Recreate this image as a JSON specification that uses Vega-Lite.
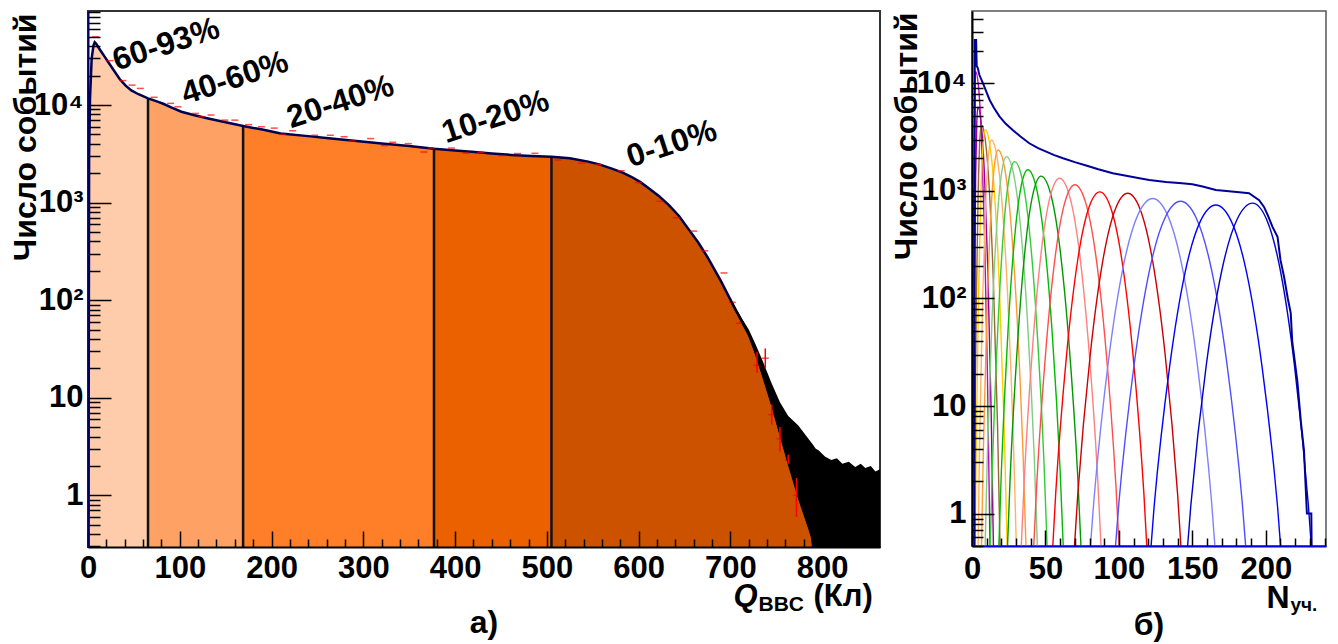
{
  "$schema": "https://vega.github.io/schema/vega-lite/v6.json",
  "background": "white",
  "padding": {"left": 8, "top": 10, "right": 4, "bottom": 0},
  "spacing": 8,
  "resolve": {"scale": {"color": "independent"}},
  "config": {
    "view": {"stroke": "#333333", "strokeWidth": 2},
    "font": "Liberation Sans",
    "axis": {"labelFont": "Liberation Sans", "labelFontWeight": "bold", "labelFontSize": 31, "labelColor": "#000000", "titleFont": "Liberation Sans", "titleFontWeight": "bold", "titleColor": "#000000", "titleFontSize": 32, "domainColor": "#000000", "domainWidth": 2, "tickColor": "#000000", "tickWidth": 1.5, "grid": false, "labelOverlap": false, "labelFlush": false, "labelBound": false, "zindex": 1},
    "title": {"font": "Liberation Sans", "fontWeight": "bold", "fontSize": 32, "color": "#000000"}
  },
  "datasets": {
    "curve": [
      {"cls": "60-93%", "q": 0.5, "n": 0.2}, {"cls": "60-93%", "q": 1.2, "n": 3000}, {"cls": "60-93%", "q": 2.2, "n": 11700}, {"cls": "60-93%", "q": 4, "n": 30000}, {"cls": "60-93%", "q": 6, "n": 41000}, {"cls": "60-93%", "q": 7.3, "n": 44000}, {"cls": "60-93%", "q": 9, "n": 42500}, {"cls": "60-93%", "q": 10.9, "n": 39600}, {"cls": "60-93%", "q": 14.5, "n": 35200}, {"cls": "60-93%", "q": 18.1, "n": 31300}, {"cls": "60-93%", "q": 21.8, "n": 27800}, {"cls": "60-93%", "q": 27.3, "n": 23300}, {"cls": "60-93%", "q": 34.5, "n": 18500}, {"cls": "60-93%", "q": 41, "n": 15800}, {"cls": "60-93%", "q": 47.2, "n": 14100}, {"cls": "60-93%", "q": 55, "n": 12900}, {"cls": "60-93%", "q": 65.4, "n": 11700},
      {"cls": "40-60%", "q": 65.4, "n": 11700}, {"cls": "40-60%", "q": 75, "n": 10900}, {"cls": "40-60%", "q": 82, "n": 10300}, {"cls": "40-60%", "q": 90, "n": 9500}, {"cls": "40-60%", "q": 101.8, "n": 8530}, {"cls": "40-60%", "q": 115, "n": 7900}, {"cls": "40-60%", "q": 131, "n": 7290}, {"cls": "40-60%", "q": 150, "n": 6650}, {"cls": "40-60%", "q": 169, "n": 6100},
      {"cls": "20-40%", "q": 169, "n": 6100}, {"cls": "20-40%", "q": 190, "n": 5600}, {"cls": "20-40%", "q": 210, "n": 5120}, {"cls": "20-40%", "q": 240, "n": 4800}, {"cls": "20-40%", "q": 265, "n": 4550}, {"cls": "20-40%", "q": 290, "n": 4300}, {"cls": "20-40%", "q": 320, "n": 4040}, {"cls": "20-40%", "q": 350, "n": 3800}, {"cls": "20-40%", "q": 377, "n": 3560},
      {"cls": "10-20%", "q": 377, "n": 3560}, {"cls": "10-20%", "q": 400, "n": 3420}, {"cls": "10-20%", "q": 418, "n": 3320}, {"cls": "10-20%", "q": 440, "n": 3180}, {"cls": "10-20%", "q": 461, "n": 3080}, {"cls": "10-20%", "q": 483, "n": 3010}, {"cls": "10-20%", "q": 505, "n": 2950},
      {"cls": "0-10%", "q": 505, "n": 2950}, {"cls": "0-10%", "q": 525, "n": 2850}, {"cls": "0-10%", "q": 545, "n": 2630}, {"cls": "0-10%", "q": 558, "n": 2450}, {"cls": "0-10%", "q": 570, "n": 2240}, {"cls": "0-10%", "q": 582, "n": 2040}, {"cls": "0-10%", "q": 592, "n": 1840}, {"cls": "0-10%", "q": 602, "n": 1620}, {"cls": "0-10%", "q": 611, "n": 1400}, {"cls": "0-10%", "q": 622, "n": 1170}, {"cls": "0-10%", "q": 633, "n": 943}, {"cls": "0-10%", "q": 644, "n": 730}, {"cls": "0-10%", "q": 654, "n": 541}, {"cls": "0-10%", "q": 665, "n": 390}, {"cls": "0-10%", "q": 676, "n": 267}, {"cls": "0-10%", "q": 690, "n": 155}, {"cls": "0-10%", "q": 705, "n": 82}, {"cls": "0-10%", "q": 712, "n": 62}, {"cls": "0-10%", "q": 720, "n": 45}, {"cls": "0-10%", "q": 727, "n": 30}, {"cls": "0-10%", "q": 735, "n": 18}, {"cls": "0-10%", "q": 745, "n": 9}, {"cls": "0-10%", "q": 754, "n": 4.5}, {"cls": "0-10%", "q": 763, "n": 2.3}, {"cls": "0-10%", "q": 770, "n": 1.5}, {"cls": "0-10%", "q": 781, "n": 0.65}, {"cls": "0-10%", "q": 789, "n": 0.38}, {"cls": "0-10%", "q": 792, "n": 0.2}
    ],
    "bounds": [
      {"q": 65.4, "n": 11700}, {"q": 169, "n": 6100}, {"q": 377, "n": 3560}, {"q": 505, "n": 2950}
    ],
    "band": [
      {"q": 700, "lo": 95, "hi": 105}, {"q": 712, "lo": 58, "hi": 66}, {"q": 720, "lo": 42, "hi": 50}, {"q": 727, "lo": 28, "hi": 36}, {"q": 735, "lo": 16, "hi": 24}, {"q": 745, "lo": 8, "hi": 14}, {"q": 754, "lo": 4, "hi": 9}, {"q": 763, "lo": 2, "hi": 6.5}, {"q": 774, "lo": 0.9, "hi": 5.2}, {"q": 785, "lo": 0.45, "hi": 3.8}, {"q": 790, "lo": 0.32, "hi": 3.3}, {"q": 793, "lo": 0.1, "hi": 3.0}, {"q": 796, "lo": 0.1, "hi": 2.9}, {"q": 803, "lo": 0.1, "hi": 2.5}, {"q": 810, "lo": 0.1, "hi": 2.3}, {"q": 816, "lo": 0.1, "hi": 2.4}, {"q": 822, "lo": 0.1, "hi": 2.1}, {"q": 829, "lo": 0.1, "hi": 2.2}, {"q": 836, "lo": 0.1, "hi": 1.95}, {"q": 842, "lo": 0.1, "hi": 2.1}, {"q": 847, "lo": 0.1, "hi": 1.9}, {"q": 853, "lo": 0.1, "hi": 2.0}, {"q": 858, "lo": 0.1, "hi": 1.75}, {"q": 863, "lo": 0.1, "hi": 1.85}
    ],
    "reddash": [
      {"q": 8, "n": 50000}, {"q": 24, "n": 28500}, {"q": 38, "n": 17800}, {"q": 48, "n": 16000}, {"q": 57, "n": 14800}, {"q": 72, "n": 12000}, {"q": 90, "n": 10400}, {"q": 98, "n": 9600}, {"q": 117, "n": 8200}, {"q": 124, "n": 7600}, {"q": 134, "n": 7900}, {"q": 149, "n": 7000}, {"q": 160, "n": 7000}, {"q": 175, "n": 6300}, {"q": 189, "n": 5990}, {"q": 203, "n": 5800}, {"q": 212, "n": 5000}, {"q": 223, "n": 5450}, {"q": 247, "n": 4900}, {"q": 264, "n": 4900}, {"q": 279, "n": 4730}, {"q": 288, "n": 4280}, {"q": 308, "n": 4530}, {"q": 323, "n": 3840}, {"q": 332, "n": 4150}, {"q": 349, "n": 4020}, {"q": 366, "n": 3300}, {"q": 374, "n": 3630}, {"q": 396, "n": 3620}, {"q": 412, "n": 3210}, {"q": 428, "n": 3280}, {"q": 451, "n": 3030}, {"q": 468, "n": 3180}, {"q": 487, "n": 3200}, {"q": 512, "n": 2730}, {"q": 538, "n": 2540}, {"q": 556, "n": 2460}, {"q": 581, "n": 2120}, {"q": 600, "n": 1600}, {"q": 623, "n": 1030}, {"q": 641, "n": 700}, {"q": 660, "n": 510}, {"q": 672, "n": 320}, {"q": 693, "n": 190}, {"q": 702, "n": 95}, {"q": 710, "n": 58}, {"q": 729, "n": 21.5}, {"q": 738, "n": 25.4}, {"q": 745, "n": 6.7}, {"q": 754, "n": 3.8}, {"q": 763, "n": 2.3}, {"q": 772, "n": 1.0}
    ],
    "rederr": [
      {"q": 729, "lo": 17.9, "hi": 29.6}, {"q": 738, "lo": 20, "hi": 32}, {"q": 745, "lo": 5.3, "hi": 8.5}, {"q": 754, "lo": 2.8, "hi": 5}, {"q": 763, "lo": 2.1, "hi": 2.6}, {"q": 772, "lo": 0.6, "hi": 1.5}
    ],
    "labels": [
      {"q": 85, "n": 42000, "t": "60-93%"}, {"q": 160, "n": 19000, "t": "40-60%"}, {"q": 275, "n": 10800, "t": "20-40%"}, {"q": 444, "n": 7570, "t": "10-20%"}, {"q": 636, "n": 4010, "t": "0-10%"}
    ],
    "comp": [
      {"c": "c01", "q": 0.2, "v": 1.6}, {"c": "c01", "q": 0.5, "v": 20}, {"c": "c01", "q": 1.0, "v": 404}, {"c": "c01", "q": 1.5, "v": 3000}, {"c": "c01", "q": 2.0, "v": 9060}, {"c": "c01", "q": 2.5, "v": 12800}, {"c": "c01", "q": 4.5, "v": 9060}, {"c": "c01", "q": 6.5, "v": 3000}, {"c": "c01", "q": 8.5, "v": 404}, {"c": "c01", "q": 10.5, "v": 20}, {"c": "c01", "q": 11.7, "v": 1.6}, {"c": "c01", "q": 12.9, "v": 0.1},
      {"c": "c02", "q": 0.55, "v": 0.76}, {"c": "c02", "q": 1.0, "v": 9.5}, {"c": "c02", "q": 1.75, "v": 190}, {"c": "c02", "q": 2.5, "v": 1400}, {"c": "c02", "q": 3.25, "v": 4250}, {"c": "c02", "q": 4, "v": 6000}, {"c": "c02", "q": 6.25, "v": 4250}, {"c": "c02", "q": 8.5, "v": 1400}, {"c": "c02", "q": 10.75, "v": 190}, {"c": "c02", "q": 13, "v": 9.5}, {"c": "c02", "q": 14.35, "v": 0.76}, {"c": "c02", "q": 15.5, "v": 0.1},
      {"c": "c03", "q": 1.34, "v": 0.52}, {"c": "c03", "q": 2.0, "v": 6.5}, {"c": "c03", "q": 3.1, "v": 130}, {"c": "c03", "q": 4.2, "v": 960}, {"c": "c03", "q": 5.3, "v": 2900}, {"c": "c03", "q": 6.4, "v": 4100}, {"c": "c03", "q": 9.15, "v": 2900}, {"c": "c03", "q": 11.9, "v": 960}, {"c": "c03", "q": 14.65, "v": 130}, {"c": "c03", "q": 17.4, "v": 6.5}, {"c": "c03", "q": 19.05, "v": 0.52}, {"c": "c03", "q": 20, "v": 0.1},
      {"c": "c04", "q": 2.1, "v": 0.47}, {"c": "c04", "q": 3, "v": 5.8}, {"c": "c04", "q": 4.5, "v": 117}, {"c": "c04", "q": 6, "v": 866}, {"c": "c04", "q": 7.5, "v": 2620}, {"c": "c04", "q": 9, "v": 3700}, {"c": "c04", "q": 12.25, "v": 2620}, {"c": "c04", "q": 15.5, "v": 866}, {"c": "c04", "q": 18.75, "v": 117}, {"c": "c04", "q": 22, "v": 5.8}, {"c": "c04", "q": 23.95, "v": 0.47}, {"c": "c04", "q": 25, "v": 0.1},
      {"c": "c05", "q": 4.0, "v": 0.37}, {"c": "c05", "q": 5.2, "v": 4.7}, {"c": "c05", "q": 7.2, "v": 94}, {"c": "c05", "q": 9.2, "v": 695}, {"c": "c05", "q": 11.2, "v": 2100}, {"c": "c05", "q": 13.2, "v": 2970}, {"c": "c05", "q": 16.95, "v": 2100}, {"c": "c05", "q": 20.7, "v": 695}, {"c": "c05", "q": 24.45, "v": 94}, {"c": "c05", "q": 28.2, "v": 4.7}, {"c": "c05", "q": 30.45, "v": 0.37},
      {"c": "c06", "q": 6.2, "v": 0.3}, {"c": "c06", "q": 7.7, "v": 3.8}, {"c": "c06", "q": 10.2, "v": 76}, {"c": "c06", "q": 12.7, "v": 562}, {"c": "c06", "q": 15.2, "v": 1700}, {"c": "c06", "q": 17.7, "v": 2400}, {"c": "c06", "q": 21.95, "v": 1700}, {"c": "c06", "q": 26.2, "v": 562}, {"c": "c06", "q": 30.45, "v": 76}, {"c": "c06", "q": 34.7, "v": 3.8}, {"c": "c06", "q": 37.25, "v": 0.3},
      {"c": "c07", "q": 8.45, "v": 0.26}, {"c": "c07", "q": 10.4, "v": 3.3}, {"c": "c07", "q": 13.65, "v": 66}, {"c": "c07", "q": 16.9, "v": 487}, {"c": "c07", "q": 20.15, "v": 1470}, {"c": "c07", "q": 23.4, "v": 2080}, {"c": "c07", "q": 28.15, "v": 1470}, {"c": "c07", "q": 32.9, "v": 487}, {"c": "c07", "q": 37.65, "v": 66}, {"c": "c07", "q": 42.4, "v": 3.3}, {"c": "c07", "q": 45.25, "v": 0.26},
      {"c": "c08", "q": 11.75, "v": 0.24}, {"c": "c08", "q": 14, "v": 3.0}, {"c": "c08", "q": 17.75, "v": 59}, {"c": "c08", "q": 21.5, "v": 438}, {"c": "c08", "q": 25.25, "v": 1320}, {"c": "c08", "q": 29, "v": 1870}, {"c": "c08", "q": 34, "v": 1320}, {"c": "c08", "q": 39, "v": 438}, {"c": "c08", "q": 44, "v": 59}, {"c": "c08", "q": 49, "v": 3.0}, {"c": "c08", "q": 52, "v": 0.24},
      {"c": "c09", "q": 17.3, "v": 0.2}, {"c": "c09", "q": 20, "v": 2.5}, {"c": "c09", "q": 24.5, "v": 50}, {"c": "c09", "q": 29, "v": 367}, {"c": "c09", "q": 33.5, "v": 1110}, {"c": "c09", "q": 38, "v": 1570}, {"c": "c09", "q": 43.5, "v": 1110}, {"c": "c09", "q": 49, "v": 367}, {"c": "c09", "q": 54.5, "v": 50}, {"c": "c09", "q": 60, "v": 2.5}, {"c": "c09", "q": 63.3, "v": 0.2},
      {"c": "c10", "q": 22.85, "v": 0.17}, {"c": "c10", "q": 26, "v": 2.2}, {"c": "c10", "q": 31.25, "v": 43}, {"c": "c10", "q": 36.5, "v": 320}, {"c": "c10", "q": 41.75, "v": 970}, {"c": "c10", "q": 47, "v": 1370}, {"c": "c10", "q": 53.25, "v": 970}, {"c": "c10", "q": 59.5, "v": 320}, {"c": "c10", "q": 65.75, "v": 43}, {"c": "c10", "q": 72, "v": 2.2}, {"c": "c10", "q": 75.75, "v": 0.17},
      {"c": "c11", "q": 32, "v": 0.17}, {"c": "c11", "q": 35.6, "v": 2.1}, {"c": "c11", "q": 41.6, "v": 41}, {"c": "c11", "q": 47.6, "v": 307}, {"c": "c11", "q": 53.6, "v": 927}, {"c": "c11", "q": 59.6, "v": 1310}, {"c": "c11", "q": 66.1, "v": 927}, {"c": "c11", "q": 72.6, "v": 307}, {"c": "c11", "q": 79.1, "v": 41}, {"c": "c11", "q": 85.6, "v": 2.1}, {"c": "c11", "q": 89.5, "v": 0.17},
      {"c": "c12", "q": 40.1, "v": 0.14}, {"c": "c12", "q": 44, "v": 1.8}, {"c": "c12", "q": 50.5, "v": 36}, {"c": "c12", "q": 57, "v": 267}, {"c": "c12", "q": 63.5, "v": 807}, {"c": "c12", "q": 70, "v": 1140}, {"c": "c12", "q": 77, "v": 807}, {"c": "c12", "q": 84, "v": 267}, {"c": "c12", "q": 91, "v": 36}, {"c": "c12", "q": 98, "v": 1.8}, {"c": "c12", "q": 102.2, "v": 0.14},
      {"c": "c13", "q": 52.5, "v": 0.12}, {"c": "c13", "q": 57, "v": 1.55}, {"c": "c13", "q": 64.5, "v": 31}, {"c": "c13", "q": 72, "v": 229}, {"c": "c13", "q": 79.5, "v": 694}, {"c": "c13", "q": 87, "v": 980}, {"c": "c13", "q": 94.5, "v": 694}, {"c": "c13", "q": 102, "v": 229}, {"c": "c13", "q": 109.5, "v": 31}, {"c": "c13", "q": 117, "v": 1.55}, {"c": "c13", "q": 121.5, "v": 0.12},
      {"c": "c14", "q": 66.9, "v": 0.12}, {"c": "c14", "q": 72, "v": 1.5}, {"c": "c14", "q": 80.5, "v": 30}, {"c": "c14", "q": 89, "v": 222}, {"c": "c14", "q": 97.5, "v": 673}, {"c": "c14", "q": 106, "v": 950}, {"c": "c14", "q": 114.5, "v": 673}, {"c": "c14", "q": 123, "v": 222}, {"c": "c14", "q": 131.5, "v": 30}, {"c": "c14", "q": 140, "v": 1.5}, {"c": "c14", "q": 145.1, "v": 0.12},
      {"c": "c15", "q": 77, "v": 0.11}, {"c": "c15", "q": 83, "v": 1.34}, {"c": "c15", "q": 93, "v": 27}, {"c": "c15", "q": 103, "v": 199}, {"c": "c15", "q": 113, "v": 602}, {"c": "c15", "q": 123, "v": 850}, {"c": "c15", "q": 133, "v": 602}, {"c": "c15", "q": 143, "v": 199}, {"c": "c15", "q": 153, "v": 27}, {"c": "c15", "q": 163, "v": 1.34}, {"c": "c15", "q": 169, "v": 0.11},
      {"c": "c16", "q": 93.7, "v": 0.1}, {"c": "c16", "q": 100, "v": 1.26}, {"c": "c16", "q": 110.5, "v": 25}, {"c": "c16", "q": 121, "v": 187}, {"c": "c16", "q": 131.5, "v": 566}, {"c": "c16", "q": 142, "v": 800}, {"c": "c16", "q": 152.5, "v": 566}, {"c": "c16", "q": 163, "v": 187}, {"c": "c16", "q": 173.5, "v": 25}, {"c": "c16", "q": 184, "v": 1.26}, {"c": "c16", "q": 190.3, "v": 0.1},
      {"c": "c17", "q": 117.7, "v": 0.09}, {"c": "c17", "q": 124, "v": 1.17}, {"c": "c17", "q": 134.5, "v": 23}, {"c": "c17", "q": 145, "v": 173}, {"c": "c17", "q": 155.5, "v": 524}, {"c": "c17", "q": 166, "v": 740}, {"c": "c17", "q": 176.5, "v": 524}, {"c": "c17", "q": 187, "v": 173}, {"c": "c17", "q": 197.5, "v": 23}, {"c": "c17", "q": 208, "v": 1.17}, {"c": "c17", "q": 214.3, "v": 0.09},
      {"c": "c18", "q": 142.7, "v": 0.1}, {"c": "c18", "q": 149, "v": 1.2}, {"c": "c18", "q": 159.5, "v": 24}, {"c": "c18", "q": 170, "v": 180}, {"c": "c18", "q": 180.5, "v": 545}, {"c": "c18", "q": 191, "v": 770}, {"c": "c18", "q": 200.5, "v": 545}, {"c": "c18", "q": 210, "v": 180}, {"c": "c18", "q": 219.5, "v": 24}, {"c": "c18", "q": 229, "v": 1.2}, {"c": "c18", "q": 234.7, "v": 0.1}
    ],
    "total": [
      {"q": 1.7, "v": 0.2}, {"q": 1.9, "v": 25300}, {"q": 2.8, "v": 25300}, {"q": 3.2, "v": 14500}, {"q": 4, "v": 13800}, {"q": 5, "v": 12000}, {"q": 7.5, "v": 10000}, {"q": 10, "v": 8200}, {"q": 12, "v": 7000}, {"q": 15, "v": 5900}, {"q": 18.8, "v": 4900}, {"q": 23, "v": 4200}, {"q": 27.7, "v": 3680}, {"q": 33, "v": 3200}, {"q": 39, "v": 2770}, {"q": 45, "v": 2500}, {"q": 50.5, "v": 2320}, {"q": 56, "v": 2150}, {"q": 62, "v": 2010}, {"q": 70, "v": 1850}, {"q": 77.7, "v": 1720}, {"q": 86, "v": 1590}, {"q": 95.8, "v": 1460}, {"q": 105, "v": 1380}, {"q": 114, "v": 1310}, {"q": 120.7, "v": 1260}, {"q": 132, "v": 1210}, {"q": 143, "v": 1180}, {"q": 150, "v": 1150}, {"q": 157, "v": 1100}, {"q": 166, "v": 1020}, {"q": 175, "v": 990}, {"q": 182, "v": 970}, {"q": 188.6, "v": 950}, {"q": 195.5, "v": 820}, {"q": 198.8, "v": 710}, {"q": 201.5, "v": 590}, {"q": 204.5, "v": 465}, {"q": 208, "v": 375}, {"q": 210, "v": 228}, {"q": 212.4, "v": 160}, {"q": 215, "v": 100}, {"q": 217, "v": 73}, {"q": 218, "v": 40}, {"q": 221.5, "v": 17}, {"q": 224, "v": 6.9}, {"q": 226, "v": 3.9}, {"q": 228, "v": 1}, {"q": 231, "v": 1}, {"q": 231.5, "v": 0.2}
    ]
  },
  "hconcat": [
    {
      "width": 792,
      "height": 536,
      "title": {"text": "а)", "orient": "bottom", "anchor": "middle", "offset": -6},
      "resolve": {"axis": {"x": "independent", "y": "independent"}},
      "layer": [
        {
          "data": {"name": "curve"},
          "mark": {"type": "area", "clip": true},
          "encoding": {
            "x": {"field": "q", "type": "quantitative", "scale": {"domain": [0, 863], "nice": false, "zero": false},
              "axis": {"orient": "bottom", "zindex": 2, "values": [0,20,40,60,80,100,120,140,160,180,200,220,240,260,280,300,320,340,360,380,400,420,440,460,480,500,520,540,560,580,600,620,640,660,680,700,720,740,760,780,800,820,840,860],
                "labelExpr": "datum.value % 100 == 0 ? datum.label : ''",
                "labelFontSize": {"condition": {"test": "datum.value % 100 == 0", "value": 31}, "value": 0},
                "tickSize": {"condition": {"test": "datum.value % 100 == 0", "value": -16}, "value": -8},
                "labelPadding": 22,
                "title": "Q", "titleFontStyle": "italic", "titleFontSize": 31, "titleX": 645, "titleY": 58, "titleAlign": "left", "titleBaseline": "alphabetic"}},
            "y": {"field": "n", "type": "quantitative", "stack": null, "scale": {"type": "log", "domain": [0.295, 92000], "nice": false},
              "axis": {"orient": "left", "zindex": 2, "values": [0.3,0.4,0.5,0.6,0.7,0.8,0.9,1,2,3,4,5,6,7,8,9,10,20,30,40,50,60,70,80,90,100,200,300,400,500,600,700,800,900,1000,2000,3000,4000,5000,6000,7000,8000,9000,10000,20000,30000,40000,50000,60000,70000,80000,90000],
                "labelExpr": "datum.value == 1 ? '1' : datum.value == 10 ? '10' : datum.value == 100 ? '10²' : datum.value == 1000 ? '10³' : datum.value == 10000 ? '10⁴' : ''",
                "labelFontSize": {"condition": {"test": "indexof([1,10,100,1000,10000], datum.value) >= 0", "value": 31}, "value": 0},
                "tickSize": {"condition": {"test": "indexof([1,10,100,1000,10000], datum.value) >= 0", "value": -23}, "value": -12},
                "labelPadding": 28,
                "domainColor": "#000066",
                "title": "Число событий", "titleAngle": 270, "titleX": -53, "titleY": 2, "titleAlign": "right", "titleBaseline": "alphabetic"}},
            "y2": {"datum": 0.295},
            "color": {"field": "cls", "type": "nominal", "scale": {"domain": ["60-93%", "40-60%", "20-40%", "10-20%", "0-10%"], "range": ["#FECCAA", "#FDA264", "#FE7F28", "#EB6100", "#CC5200"]}, "legend": null}
          }
        },
        {
          "data": {"name": "bounds"},
          "mark": {"type": "rule", "color": "#111111", "strokeWidth": 2.5, "clip": true},
          "encoding": {
            "x": {"field": "q", "type": "quantitative", "scale": {"domain": [0, 863], "nice": false, "zero": false},
              "axis": {"orient": "bottom", "labels": false, "ticks": false, "domain": false, "title": "BBC", "titleFontSize": 21, "titleX": 670, "titleY": 63, "titleAlign": "left", "titleBaseline": "alphabetic"}},
            "y": {"field": "n", "type": "quantitative", "scale": {"type": "log", "domain": [0.295, 92000], "nice": false}, "axis": null},
            "y2": {"datum": 0.295}
          }
        },
        {
          "data": {"name": "curve"},
          "mark": {"type": "line", "color": "#000050", "strokeWidth": 2.5, "clip": true},
          "encoding": {
            "x": {"field": "q", "type": "quantitative", "scale": {"domain": [0, 863], "nice": false, "zero": false},
              "axis": {"orient": "bottom", "labels": false, "ticks": false, "domain": false, "title": "(Кл)", "titleFontSize": 31, "titleX": 725, "titleY": 58, "titleAlign": "left", "titleBaseline": "alphabetic"}},
            "y": {"field": "n", "type": "quantitative", "scale": {"type": "log", "domain": [0.295, 92000], "nice": false}, "axis": null}
          }
        },
        {
          "data": {"name": "reddash"},
          "mark": {"type": "tick", "orient": "horizontal", "color": "#FF0000", "size": 7, "thickness": 1.5, "clip": true},
          "encoding": {
            "x": {"field": "q", "type": "quantitative", "scale": {"domain": [0, 863], "nice": false, "zero": false}, "axis": null},
            "y": {"field": "n", "type": "quantitative", "scale": {"type": "log", "domain": [0.295, 92000], "nice": false}, "axis": null}
          }
        },
        {
          "data": {"name": "band"},
          "mark": {"type": "area", "color": "#000000", "clip": true},
          "encoding": {
            "x": {"field": "q", "type": "quantitative", "scale": {"domain": [0, 863], "nice": false, "zero": false}, "axis": null},
            "y": {"field": "hi", "type": "quantitative", "scale": {"type": "log", "domain": [0.295, 92000], "nice": false}, "axis": null},
            "y2": {"field": "lo"}
          }
        },
        {
          "data": {"name": "rederr"},
          "mark": {"type": "rule", "color": "#FF0000", "strokeWidth": 1.5, "clip": true},
          "encoding": {
            "x": {"field": "q", "type": "quantitative", "scale": {"domain": [0, 863], "nice": false, "zero": false}, "axis": null},
            "y": {"field": "lo", "type": "quantitative", "scale": {"type": "log", "domain": [0.295, 92000], "nice": false}, "axis": null},
            "y2": {"field": "hi"}
          }
        },
        {
          "data": {"name": "labels"},
          "mark": {"type": "text", "font": "Liberation Sans", "fontWeight": "bold", "fontSize": 32, "angle": 342, "color": "#000000"},
          "encoding": {
            "x": {"field": "q", "type": "quantitative", "scale": {"domain": [0, 863], "nice": false, "zero": false}, "axis": null},
            "y": {"field": "n", "type": "quantitative", "scale": {"type": "log", "domain": [0.295, 92000], "nice": false}, "axis": null},
            "text": {"field": "t"}
          }
        }
      ]
    },
    {
      "width": 354,
      "height": 535,
      "view": {"stroke": "#555555", "strokeWidth": 1.5},
      "title": {"text": "б)", "orient": "bottom", "anchor": "middle", "offset": -4},
      "resolve": {"axis": {"x": "independent", "y": "independent"}},
      "layer": [
        {
          "data": {"name": "comp"},
          "mark": {"type": "line", "strokeWidth": 1.4, "interpolate": "monotone", "clip": true},
          "encoding": {
            "x": {"field": "q", "type": "quantitative", "scale": {"domain": [0, 241], "nice": false, "zero": false},
              "axis": {"orient": "bottom", "zindex": 2, "values": [0,10,20,30,40,50,60,70,80,90,100,110,120,130,140,150,160,170,180,190,200,210,220,230,240],
                "labelExpr": "datum.value % 50 == 0 ? datum.label : ''",
                "labelFontSize": {"condition": {"test": "datum.value % 50 == 0", "value": 31}, "value": 0},
                "tickSize": {"condition": {"test": "datum.value % 50 == 0", "value": -16}, "value": -8},
                "labelPadding": 24,
                "domainColor": "#0000EE",
                "title": "N", "titleX": 294, "titleY": 61, "titleAlign": "left", "titleBaseline": "alphabetic"}},
            "y": {"field": "v", "type": "quantitative", "scale": {"type": "log", "domain": [0.5, 47000], "nice": false},
              "axis": {"orient": "left", "zindex": 2, "values": [0.5,0.6,0.7,0.8,0.9,1,2,3,4,5,6,7,8,9,10,20,30,40,50,60,70,80,90,100,200,300,400,500,600,700,800,900,1000,2000,3000,4000,5000,6000,7000,8000,9000,10000,20000,30000,40000],
                "labelExpr": "datum.value == 1 ? '1' : datum.value == 10 ? '10' : datum.value == 100 ? '10²' : datum.value == 1000 ? '10³' : datum.value == 10000 ? '10⁴' : ''",
                "labelFontSize": {"condition": {"test": "indexof([1,10,100,1000,10000], datum.value) >= 0", "value": 31}, "value": 0},
                "tickSize": {"condition": {"test": "indexof([1,10,100,1000,10000], datum.value) >= 0", "value": -22}, "value": -11},
                "labelPadding": 28,
                "title": "Число событий", "titleAngle": 270, "titleX": -56, "titleY": 1, "titleAlign": "right", "titleBaseline": "alphabetic"}},
            "color": {"field": "c", "type": "nominal", "scale": {"domain": ["c01","c02","c03","c04","c05","c06","c07","c08","c09","c10","c11","c12","c13","c14","c15","c16","c17","c18"], "range": ["#CC00CC","#990099","#996633","#FFCC00","#FFB266","#FF9933","#80CC80","#33CC33","#00BB00","#009900","#FF8080","#FF4D4D","#FF0000","#CC0000","#8080FF","#4D4DFF","#0000FF","#0000CC"]}, "legend": null}
          }
        },
        {
          "data": {"name": "total"},
          "mark": {"type": "line", "strokeWidth": 2, "color": "#000099", "clip": true},
          "encoding": {
            "x": {"field": "q", "type": "quantitative", "scale": {"domain": [0, 241], "nice": false, "zero": false},
              "axis": {"orient": "bottom", "labels": false, "ticks": false, "domain": false, "title": "уч.", "titleFontSize": 19, "titleX": 318, "titleY": 64, "titleAlign": "left", "titleBaseline": "alphabetic"}},
            "y": {"field": "v", "type": "quantitative", "scale": {"type": "log", "domain": [0.5, 47000], "nice": false}, "axis": null}
          }
        }
      ]
    }
  ]
}
